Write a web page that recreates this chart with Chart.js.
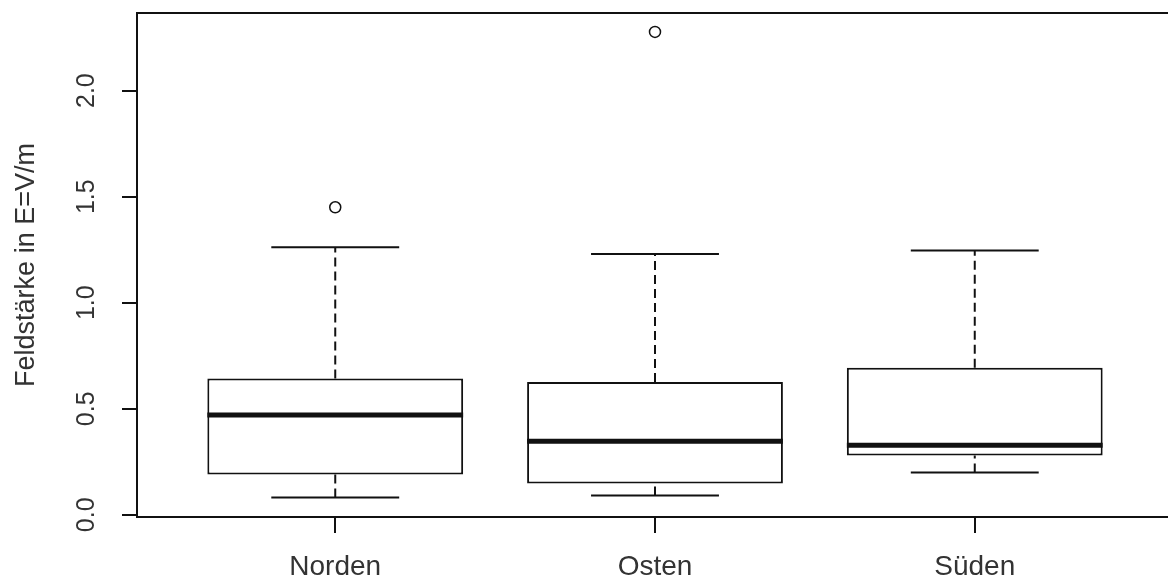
<!DOCTYPE html>
<html>
<head>
<meta charset="utf-8">
<script src="https://cdn.jsdelivr.net/npm/chart.js@4"></script>
<style>
  html, body { margin: 0; padding: 0; background: #fff; overflow: hidden; }
  #wrap { width: 1180px; height: 579px; }
</style>
</head>
<body>
<div id="wrap"><canvas id="boxChart"></canvas></div>
<script>
// boxplot values
const groups = ['Norden', 'Osten', 'Süden'];
const lowerWhisker = [0.081, 0.091, 0.199];
const q1 = [0.190, 0.147, 0.280];
const median = [0.470, 0.347, 0.328];
const q3 = [0.643, 0.626, 0.693];
const upperWhisker = [1.262, 1.230, 1.246];
const outliers = [[1.450], [2.277], []];
const yTicks = [0, 0.5, 1, 1.5, 2];

const ink = '#111';
const textInk = '#333';

// build line segments (null point = gap)
function segments(build) {
    const pts = [];
    groups.forEach((g, i) => {
        build(i + 1, i).forEach(seg => {
            pts.push(seg[0], seg[1], { x: seg[1].x, y: null });
        });
    });
    return pts;
}

const medianData = segments((x, i) => [
    [{ x: x - 0.4, y: median[i] }, { x: x + 0.4, y: median[i] }]
]);
const whiskerData = segments((x, i) => [
    [{ x: x, y: q3[i] }, { x: x, y: upperWhisker[i] }],
    [{ x: x, y: lowerWhisker[i] }, { x: x, y: q1[i] }]
]);
const capData = segments((x, i) => [
    [{ x: x - 0.2, y: upperWhisker[i] }, { x: x + 0.2, y: upperWhisker[i] }],
    [{ x: x - 0.2, y: lowerWhisker[i] }, { x: x + 0.2, y: lowerWhisker[i] }]
]);
const boxData = groups.map((g, i) => ({ x: i + 1, y: [q1[i], q3[i]] }));
const outlierData = [];
outliers.forEach((vals, i) => vals.forEach(v => outlierData.push({ x: i + 1, y: v })));

const lineDefaults = { type: 'line', pointRadius: 0, borderColor: ink, tension: 0, spanGaps: false, fill: false };

// frame around the plot region, like R's box()
const framePlugin = {
    id: 'frame',
    afterDraw(chart) {
        const { ctx, chartArea: a } = chart;
        ctx.save();
        ctx.strokeStyle = ink;
        ctx.lineWidth = 2;
        ctx.strokeRect(a.left, a.top, a.right - a.left, a.bottom - a.top);
        ctx.restore();
    }
};

new Chart(document.getElementById('boxChart'), {
    type: 'bar',
    data: {
        datasets: [
            { type: 'scatter', data: outlierData, pointStyle: 'circle', pointRadius: 5.5,
              borderColor: ink, borderWidth: 1.5, backgroundColor: 'rgba(0,0,0,0)' },
            { ...lineDefaults, data: medianData, borderWidth: 5, borderCapStyle: 'butt' },
            { type: 'bar', data: boxData, backgroundColor: '#fff', borderColor: ink, borderWidth: 2,
              borderSkipped: false, categoryPercentage: 1, barPercentage: 0.8 },
            { ...lineDefaults, data: capData, borderWidth: 2 },
            { ...lineDefaults, data: whiskerData, borderWidth: 2, borderDash: [9, 5] }
        ]
    },
    options: {
        responsive: true,
        maintainAspectRatio: false,
        animation: false,
        events: [],
        layout: { padding: { top: 13, right: 2, left: 0, bottom: 0 } },
        plugins: { legend: { display: false }, tooltip: { enabled: false } },
        scales: {
            x: {
                type: 'linear',
                min: 0.38,
                max: 3.62,
                offset: false,
                afterBuildTicks: s => { s.ticks = groups.map((g, i) => ({ value: i + 1 })); },
                afterFit: s => { s.height = 62; s.paddingLeft = 0; s.paddingRight = 0; },
                ticks: {
                    callback: v => groups[v - 1],
                    color: textInk,
                    font: { family: 'Liberation Sans, Arial, sans-serif', size: 28 },
                    padding: 17,
                    maxRotation: 0
                },
                grid: { display: true, offset: false, drawOnChartArea: false, tickLength: 16, color: ink, lineWidth: 2 },
                border: { display: false }
            },
            y: {
                type: 'linear',
                min: -0.0104,
                max: 2.366,
                afterBuildTicks: s => { s.ticks = yTicks.map(v => ({ value: v })); },
                afterFit: s => { s.width = 137; s.paddingTop = 0; s.paddingBottom = 0; },
                ticks: {
                    callback: v => v.toFixed(1),
                    color: textInk,
                    font: { family: 'Liberation Sans, Arial, sans-serif', size: 25 },
                    minRotation: 90,
                    maxRotation: 90,
                    crossAlign: 'center',
                    padding: 18
                },
                grid: { display: true, drawOnChartArea: false, tickLength: 15, color: ink, lineWidth: 2 },
                border: { display: false },
                title: {
                    display: true,
                    text: 'Feldstärke in E=V/m',
                    color: textInk,
                    font: { family: 'Liberation Sans, Arial, sans-serif', size: 27 },
                    padding: { top: 10, bottom: 0 }
                }
            }
        }
    },
    plugins: [framePlugin]
});
</script>
</body>
</html>
